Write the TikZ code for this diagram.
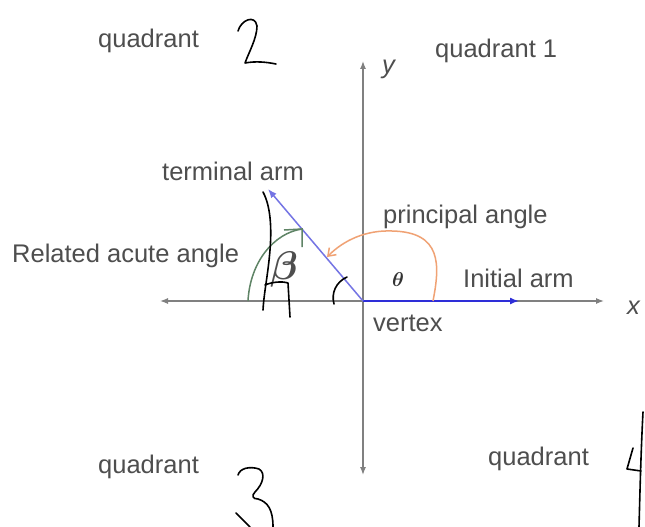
\documentclass[tikz,border=0pt]{standalone}
\usepackage{fontspec}
\setmainfont{Liberation Sans}
\usetikzlibrary{arrows.meta}
\definecolor{txt}{HTML}{4E4E4E}
\definecolor{axis}{HTML}{808080}
\definecolor{blueA}{HTML}{2E2ED8}
\definecolor{blueT}{HTML}{7474E4}
\definecolor{orng}{HTML}{F0A274}
\definecolor{grn}{HTML}{5F8466}
\tikzset{
  lbl/.style={anchor=base west, inner sep=0pt, text=txt, font=\fontsize{25.5}{30}\selectfont},
  axisline/.style={draw=axis, line width=1.3pt, -{Latex[length=8pt,width=6pt]}},
  armline/.style={line width=1.5pt, -{Latex[length=9pt,width=7pt]}},
  hand/.style={draw=black, line width=1.6pt, line cap=round, line join=round},
}
\begin{document}
\begin{tikzpicture}[x=1pt,y=-1pt]
\useasboundingbox (0,0) rectangle (645,527);
\fill[white] (0,0) rectangle (645,527);
% coordinates
\coordinate (O) at (363,301);
\coordinate (xL) at (160,301);
\coordinate (xR) at (604,301);
\coordinate (yT) at (363,61);
\coordinate (yB) at (363,475);
\coordinate (Ti) at (519,301);
\coordinate (Tt) at (268,189);
% axes
\draw[axisline] (O) -- (xR);
\draw[axisline] (O) -- (xL);
\draw[axisline] (O) -- (yT);
\draw[axisline] (O) -- (yB);
% arms
\draw[armline, blueA] (O) -- (Ti);
\draw[armline, blueT] (O) -- (Tt);
% principal angle (orange)
\coordinate (oS) at (433,301);
\coordinate (oE) at (327,257);
\draw[orng, line width=1.5pt, -{Straight Barb[length=7pt,width=10pt]}]
  (oS) .. controls (440,265) and (442,232) .. (392,231)
       .. controls (366,230) and (344,240) .. (oE);
% related acute angle (green)
\coordinate (gS) at (248,301);
\coordinate (gE) at (302,229);
\draw[grn, line width=1.5pt] (gS) .. controls (250,262) and (274,233) .. (gE);
\draw[grn, line width=1.5pt] (284,230) -- (gE) -- (302,247);
% labels
\node[lbl] (q2) at (98,48) {quadrant};
\node[lbl] (q1) at (435,58) {quadrant 1};
\node[lbl, font=\fontsize{25.5}{30}\selectfont\itshape] (ylab) at (382,74) {y};
\node[lbl] (term) at (162,180) {terminal arm};
\node[lbl] (prin) at (383,223) {principal angle};
\node[lbl] (rel) at (12,262) {Related acute angle};
\node[lbl] (init) at (463,287) {Initial arm};
\node[lbl, font=\fontsize{25.5}{30}\selectfont\itshape] (xlab) at (627,314) {x};
\node[lbl] (vert) at (373,331) {vertex};
\node[lbl] (q3) at (98,473) {quadrant};
\node[lbl] (q4) at (488,465) {quadrant};
\node[inner sep=0pt, text=txt, scale=4, font=\boldmath] (beta) at (284,269) {$\beta$};
\node[inner sep=0pt, text=black!80, scale=2, font=\boldmath] (theta) at (398,280) {$\theta$};
% handwriting
\path[hand] (238,31) .. controls (241,20) and (255,14) .. (257,26)
   .. controls (257,38) and (249,52) .. (245,63)
   .. controls (256,61) and (266,62) .. (276,64);
\path[hand] (238,475) .. controls (240,468) and (250,466) .. (259,469)
   .. controls (266,473) and (263,484) .. (255,492)
   .. controls (251,496) and (253,499) .. (258,499)
   .. controls (268,502) and (273,510) .. (273,527);
\path[hand] (236,513) -- (250,527);
\path[hand] (633,448) -- (627,469) -- (641,471);
\path[hand] (643,412) .. controls (641,450) and (640,490) .. (639,527);
\path[hand] (263,192) .. controls (270,205) and (272,225) .. (270,250)
   .. controls (268,275) and (264,292) .. (263,310);
\path[hand] (265,285) .. controls (272,282) and (282,281) .. (288,283)
   -- (290,317);
\path[hand] (347,277) .. controls (336,282) and (331,293) .. (334,304);
\end{tikzpicture}
\end{document}
